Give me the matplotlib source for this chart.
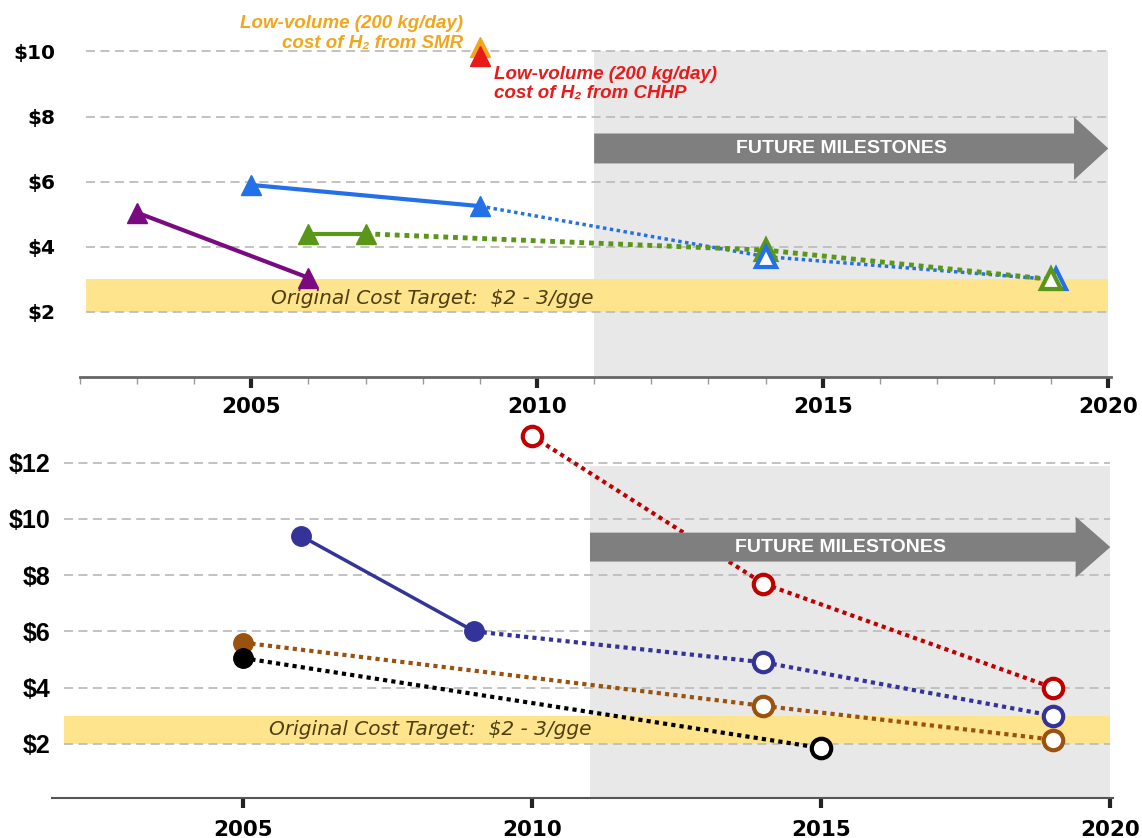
import matplotlib.pyplot as plt
from matplotlib.patches import FancyArrow

# ---- top panel: triangles (cost of H2, $/gge) ----
purple_years = [2003, 2006]
purple_cost = [5.05, 3.05]

blue_years = [2005, 2009]
blue_cost = [5.9, 5.25]
blue_target_years = [2009, 2014, 2019]
blue_target_cost = [5.25, 3.7, 3.0]

green_years = [2006, 2007]
green_cost = [4.4, 4.4]
green_target_years = [2007, 2014, 2019]
green_target_cost = [4.4, 3.9, 3.0]

smr_year, smr_cost = 2009, 10.15
chhp_year, chhp_cost = 2009, 9.85

# ---- bottom panel: circles ----
navy_years = [2006, 2009]
navy_cost = [9.4, 6.0]
navy_target_years = [2009, 2014, 2019]
navy_target_cost = [6.0, 4.9, 3.0]

brown_years = [2005]
brown_cost = [5.6]
brown_target_years = [2005, 2014, 2019]
brown_target_cost = [5.6, 3.35, 2.15]

black_years = [2005]
black_cost = [5.05]
black_target_years = [2005, 2015]
black_target_cost = [5.05, 1.85]

red_target_years = [2010, 2014, 2019]
red_target_cost = [12.95, 7.7, 4.0]

target_low, target_high = 2, 3
future_start = 2011

top_yticks = [2, 4, 6, 8, 10]
bottom_yticks = [2, 4, 6, 8, 10, 12]
year_ticks = [2005, 2010, 2015, 2020]

PURPLE = '#7a0a80'
BLUE = '#2470e6'
GREEN = '#5a9618'
ORANGE = '#f2a61c'
RED = '#e81a1a'
NAVY = '#333399'
BROWN = '#9a520f'
DKRED = '#c00000'
BAND = '#fee48c'
SHADE = '#e8e8e8'
ARROW = '#7f7f7f'
GRID = '#bdbdbd'
DOT = (0, (1, 1))
BANDTXT = '#4f3d12'

fig = plt.figure(figsize=(11.42, 8.38), dpi=100)
ax1 = fig.add_axes([0.070, 0.550, 0.903, 0.445])
ax2 = fig.add_axes([0.0458, 0.0477, 0.929, 0.450])
for ax in (ax1, ax2):
    ax.patch.set_alpha(0)
    for s in ('top', 'right', 'left'):
        ax.spines[s].set_visible(False)


def background(ax, x0, shade_top, ticks, arrow_y, arrow_h):
    ax.fill_between([future_start, 2020], 0, shade_top, color=SHADE, lw=0, zorder=0)
    ax.fill_between([x0, 2020], target_low, target_high, color=BAND, lw=0, zorder=1)
    ax.hlines(ticks, x0, 2020, colors=GRID, lw=1.3, linestyles=(0, (5, 3)), zorder=2)
    ax.add_patch(FancyArrow(future_start, arrow_y, 9, 0, width=arrow_h,
                            head_width=arrow_h * 2.1, head_length=0.6,
                            length_includes_head=True, color=ARROW, lw=0, zorder=6))
    ax.text(2015.33, arrow_y, 'FUTURE MILESTONES', color='white', fontsize=14,
            fontweight='bold', family='Liberation Sans', ha='center', va='center', zorder=7)


# ---------------- top panel ----------------
ax1.set_xlim(2002, 2020.05)
ax1.set_ylim(0, 11.45)
background(ax1, 2002.1, 10, top_yticks, 7.02, 0.92)
ax1.text(2005.35, 2.42, 'Original Cost Target:  \\$2 - 3/gge', fontsize=14.5, style='italic',
         family='DejaVu Sans', color=BANDTXT, va='center', zorder=3)

ms = 15
ax1.plot(purple_years, purple_cost, color=PURPLE, lw=3, marker='^', ms=ms, zorder=4)
ax1.plot(blue_target_years, blue_target_cost, color=BLUE, lw=2.5, ls=DOT, zorder=4)
ax1.plot(green_target_years, green_target_cost, color=GREEN, lw=3.5, ls=DOT, zorder=4)
ax1.plot(blue_years, blue_cost, color=BLUE, lw=3, marker='^', ms=ms, zorder=5)
ax1.plot(green_years, green_cost, color=GREEN, lw=3, marker='^', ms=ms, zorder=5)
ax1.plot(green_target_years[1:2], green_target_cost[1:2], ls='none', marker='^', ms=ms,
         mfc='white', mec=GREEN, mew=3, zorder=5)
ax1.plot(blue_target_years[1:2], blue_target_cost[1:2], ls='none', marker='^', ms=ms,
         mfc='white', mec=BLUE, mew=3, zorder=5)
ax1.plot([blue_target_years[2] + 0.08], blue_target_cost[2:], ls='none', marker='^', ms=ms,
         mfc='white', mec=BLUE, mew=3, zorder=5)
ax1.plot(green_target_years[2:], green_target_cost[2:], ls='none', marker='^', ms=ms,
         mfc='white', mec=GREEN, mew=3, zorder=5)
ax1.plot([smr_year], [smr_cost], ls='none', marker='^', ms=ms, color=ORANGE, zorder=5)
ax1.plot([chhp_year], [chhp_cost], ls='none', marker='^', ms=ms, color=RED, zorder=5)

afont = dict(fontsize=13.5, style='italic', fontweight='bold',
             family=['Liberation Sans', 'DejaVu Sans'], zorder=8)
ax1.text(2008.7, 10.55, 'Low-volume (200 kg/day)\ncost of H\u2082 from SMR', color=ORANGE,
         ha='right', va='center', ma='right', linespacing=1.2, **afont)
ax1.text(2009.25, 9.0, 'Low-volume (200 kg/day)\ncost of H\u2082 from CHHP', color=RED,
         ha='left', va='center', ma='left', linespacing=1.2, **afont)

ax1.set_yticks(top_yticks)
ax1.set_yticklabels([f'${v}' for v in top_yticks], fontsize=14.5, fontweight='bold',
                    family='DejaVu Sans')
ax1.tick_params(axis='y', length=0, pad=18)
ax1.set_xticks(year_ticks)
ax1.set_xticks(range(2002, 2021), minor=True)
ax1.set_xticklabels([str(y) for y in year_ticks], fontsize=15.5, fontweight='bold', family='DejaVu Sans')
ax1.tick_params(axis='x', which='major', length=8, width=3, color='#222222', pad=6)
ax1.tick_params(axis='x', which='minor', length=5, width=1, color='#999999')
ax1.spines['bottom'].set_color('#666666')
ax1.spines['bottom'].set_linewidth(2)

# ---------------- bottom panel ----------------
ax2.set_xlim(2001.7, 2020.05)
ax2.set_ylim(0.07, 13.49)
background(ax2, 2001.9, 11.9, bottom_yticks, 9.0, 1.03)
ax2.text(2005.45, 2.5, 'Original Cost Target:  \\$2 - 3/gge', fontsize=14.5, style='italic',
         family='DejaVu Sans', color=BANDTXT, va='center', zorder=3)

cms = 14
ax2.plot(red_target_years, red_target_cost, color=DKRED, lw=3, ls=DOT, zorder=4)
ax2.plot(navy_target_years, navy_target_cost, color=NAVY, lw=3, ls=DOT, zorder=4)
ax2.plot(brown_target_years, brown_target_cost, color=BROWN, lw=3, ls=DOT, zorder=4)
ax2.plot(black_target_years, black_target_cost, color='black', lw=3, ls=DOT, zorder=4)
ax2.plot(navy_years, navy_cost, color=NAVY, lw=2.5, marker='o', ms=cms, zorder=5)
ax2.plot(brown_years, brown_cost, color=BROWN, ls='none', marker='o', ms=cms, zorder=5)
ax2.plot(black_years, black_cost, color='black', ls='none', marker='o', ms=cms, zorder=5)
for yrs, vals, c in [(red_target_years, red_target_cost, DKRED),
                     (navy_target_years[1:], navy_target_cost[1:], NAVY),
                     (brown_target_years[1:], brown_target_cost[1:], BROWN),
                     (black_target_years[1:], black_target_cost[1:], 'black')]:
    ax2.plot(yrs, vals, ls='none', marker='o', ms=cms, mfc='white', mec=c, mew=3, zorder=5)

ax2.set_yticks(bottom_yticks)
ax2.set_yticklabels([f'${v}' for v in bottom_yticks], fontsize=18, fontweight='bold',
                    family='Liberation Sans')
ax2.tick_params(axis='y', length=0, pad=1)
ax2.set_xticks(year_ticks)
ax2.set_xticklabels([str(y) for y in year_ticks], fontsize=15.5, fontweight='bold', family='DejaVu Sans')
ax2.tick_params(axis='x', which='major', length=7, width=3, color='#222222', pad=9)
ax2.spines['bottom'].set_color('#555555')
ax2.spines['bottom'].set_linewidth(1.5)

fig.savefig('out.png', dpi=100)
